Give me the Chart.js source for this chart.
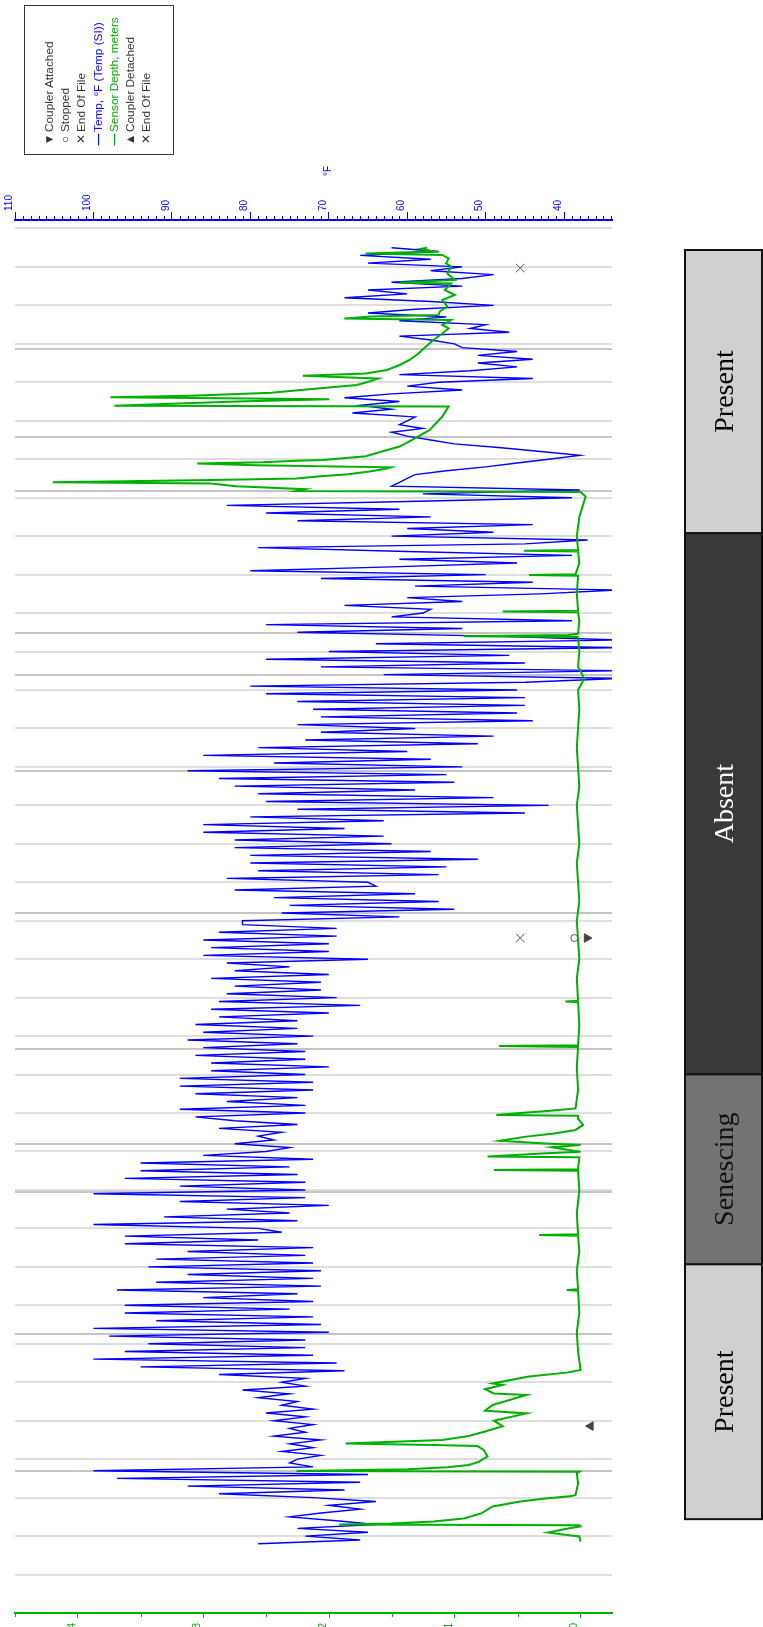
<!DOCTYPE html>
<html>
<head>
<meta charset="utf-8">
<script src="https://cdn.jsdelivr.net/npm/chart.js@4.4.1/dist/chart.umd.min.js"></script>
<style>
  html, body { margin: 0; padding: 0; background: #fff; overflow: hidden; }
  #wrap { position: relative; width: 763px; height: 1627px; overflow: hidden; }
  #chartBox { position: absolute; left: 0; top: 0; width: 763px; height: 1633px; }
  #legend {
    position: absolute; left: 24px; top: 5px; width: 150px; height: 150px;
    box-sizing: border-box; border: 1.5px solid #333; background: #fff;
    transform: rotate(-90deg);
    font: 11.8px "Liberation Sans", Arial, sans-serif; color: #333;
    padding: 16px 0 0 7px; line-height: 16.2px; white-space: nowrap;
  }
  #legend .sym { display: inline-block; width: 15px; text-align: center; }
  #legend .blue { color: #0000ff; }
  #legend .green { color: #00a800; }
  #degF {
    position: absolute; left: 318px; top: 165px; width: 20px; height: 12px;
    transform: rotate(-90deg); text-align: center;
    font: 10px "Liberation Sans", Arial, sans-serif; color: #0000ff; line-height: 12px;
  }
</style>
</head>
<body>
<div id="wrap">
  <div id="chartBox"><canvas id="chart_depthTemp"></canvas></div>
  <div id="legend">
    <div><span class="sym">&#9660;</span>Coupler Attached</div>
    <div><span class="sym">&#9675;</span>Stopped</div>
    <div><span class="sym">&#10005;</span>End Of File</div>
    <div class="blue"><span class="sym"><b>&mdash;</b></span>Temp, °F (Temp (SI))</div>
    <div class="green"><span class="sym"><b>&mdash;</b></span>Sensor Depth, meters</div>
    <div><span class="sym">&#9650;</span>Coupler Detached</div>
    <div><span class="sym">&#10005;</span>End Of File</div>
  </div>
  <div id="degF">°F</div>
</div>
<script>
// temperature, one reading every 0.1 day from day 1.8 (rows = one day)
var tempStartDay = 1.8;
var tempStepDays = 0.1;
var tempF = [
  79, 66,
  73, 65, 74, 64, 69, 75, 71, 66, 70, 64,
  72, 84, 68, 88, 66, 97, 65, 100, 72, 75,
  74, 71, 76, 72, 75, 71, 77, 73, 75, 72,
  77, 73, 78, 72, 76, 74, 79, 75, 81, 73,
  76, 73, 84, 68, 94, 69, 100, 72, 96, 73,
  93, 73, 98, 70, 100, 71, 92, 72, 96, 75,
  96, 72, 86, 74, 97, 71, 92, 72, 88, 71,
  93, 72, 92, 73, 88, 72, 96, 79, 96, 76,
  79, 100, 74, 91, 75, 83, 70, 89, 73, 100,
  73, 89, 73, 96, 74, 94, 75, 94, 72, 86,
  78, 75, 82, 77, 79, 76, 84, 74, 82, 87,
  73, 89, 73, 83, 74, 87, 72, 89, 72, 89,
  73, 85, 70, 85, 73, 87, 73, 86, 74, 88,
  72, 86, 74, 87, 74, 84, 70, 85, 66, 84,
  69, 83, 71, 82, 71, 85, 70, 82, 75, 83,
  65, 86, 70, 85, 70, 86, 69, 84, 69, 81,
  81, 61, 76, 54, 75, 56, 77, 59, 82, 64,
  65, 83, 56, 79, 55, 80, 51, 80, 57, 82,
  62, 82, 63, 86, 68, 86, 63, 80, 45, 74,
  42, 78, 49, 79, 59, 82, 54, 84, 55, 88,
  53, 77, 57, 86, 60, 79, 51, 73, 49, 71,
  59, 74, 44, 71, 46, 72, 45, 74, 45, 78,
  46, 80, 45, 33, 63, 33, 71, 45, 78, 47,
  70, 33, 64, 33, 49, 74, 53, 78, 39, 62,
  58, 57, 68, 53, 60, 43, 33, 59, 44, 71,
  50, 80, 62, 46, 61, 39, 60, 79, 45, 37,
  62, 49, 60, 44, 74, 57, 78, 61, 83, 60,
  39, 58, 38, 62, 61, 60, 59, 55, 50, 46,
  42, 38, 43, 48, 54, 57, 60, 62, 58, 61,
  60, 59, 67, 62, 66, 61, 68, 62, 53, 60,
  56, 44, 61, 52, 46, 51, 44, 51, 46, 53,
  54, 57, 61, 47, 52, 50, 61, 55, 65, 59,
  49, 57, 68, 60, 65, 53, 62, 53, 49, 57,
  53, 65, 57, 66, 56, 62
];

// sensor depth
var depthDays = [
  1.86, 1.99, 2.09, 2.19, 2.25, 2.28, 2.30, 2.33, 2.38, 2.46, 2.59, 2.77, 2.90, 2.98, 3.04,
  3.07, 3.37, 3.63, 3.67, 3.69, 3.74, 3.79, 3.85, 3.93, 4.07, 4.24, 4.34, 4.37, 4.41, 4.50,
  4.60, 4.72, 4.86, 5.00, 5.19, 5.26, 5.41, 5.67, 5.71, 5.82, 5.93, 5.97, 6.15, 6.25, 6.32,
  6.8, 7.3, 7.8, 8.38, 8.40, 8.42, 8.9, 9.4, 9.81, 9.83, 9.85, 10.4, 11.0, 11.50, 11.52,
  11.54, 11.85, 11.87, 11.91, 11.95, 11.99, 12.11, 12.17, 12.21, 12.28, 12.38, 12.47, 12.56, 12.69, 12.85,
  12.93, 12.95, 13.00, 13.06, 13.12, 13.6, 14.2, 14.72, 14.74, 14.76, 15.3, 15.88, 15.90, 15.92, 16.5,
  17.0, 17.5, 18.0, 18.5, 19.0, 19.5, 20.0, 20.5, 21.0, 21.5, 22.0, 22.5, 23.0, 23.5, 24.0,
  24.3, 24.6, 25.0, 25.38, 25.40, 25.43, 25.46, 25.8, 26.02, 26.04, 26.06, 26.5, 26.97, 26.99, 27.01,
  27.3, 27.60, 27.62, 27.64, 28.0, 28.5, 29.03, 29.15,
  29.17, 29.22, 29.30, 29.37, 29.40, 29.46, 29.50, 29.55, 29.61, 29.68, 29.76, 29.79, 29.84, 29.89, 29.92,
  29.96, 29.98, 30.08, 30.20, 30.33, 30.50, 30.76, 31.11, 31.37, 31.39, 31.50, 31.56, 31.61, 31.65, 31.73,
  31.82, 31.93, 32.02, 32.10, 32.17, 32.23, 32.32, 32.45, 32.58, 32.75, 32.93, 33.10, 33.27, 33.40, 33.49,
  33.62, 33.66, 33.71, 33.75, 33.84, 33.97, 34.14, 34.27, 34.40, 34.57, 34.59, 34.66, 34.83, 35.01, 35.09,
  35.22, 35.31, 35.35, 35.40, 35.47, 35.50
];
var depthM = [
  0.00, 0.01, 0.26, 0.11, 0.00, 0.01, 1.92, 1.51, 1.17, 0.93, 0.79, 0.70, 0.48, 0.28, 0.07,
  0.04, 0.02, 0.03, 0.01, 2.26, 1.37, 1.06, 0.89, 0.81, 0.74, 0.77, 0.82, 1.17, 1.87, 1.10,
  0.89, 0.76, 0.62, 0.69, 0.43, 0.76, 0.70, 0.43, 0.69, 0.76, 0.62, 0.70, 0.41, 0.11, 0.00,
  0.02, 0.03, 0.01, 0.02, 0.11, 0.02, 0.03, 0.01, 0.02, 0.33, 0.02, 0.03, 0.01, 0.02, 0.69,
  0.02, 0.01, 0.74, 0.52, 0.31, 0.00, 0.23, 0.00, 0.28, 0.64, 0.45, 0.21, 0.04, -0.02, 0.02,
  0.02, 0.67, 0.48, 0.24, 0.04, 0.02, 0.03, 0.02, 0.65, 0.02, 0.01, 0.02, 0.12, 0.02, 0.03,
  0.01, 0.02, 0.03, 0.01, 0.02, 0.03, 0.01, 0.02, 0.03, 0.01, 0.02, 0.03, 0.02, 0.01, 0.02,
  -0.03, 0.02, 0.01, 0.02, 0.93, 0.10, 0.02, 0.01, 0.02, 0.62, 0.02, 0.03, 0.02, 0.41, 0.04,
  0.01, 0.02, 0.45, 0.02, 0.03, 0.01, -0.04, 0.00,
  2.26, 2.19, 2.74, 2.94, 4.20, 2.93, 2.26, 2.09, 1.85, 1.68, 1.54, 1.51, 2.58, 3.05, 2.53,
  2.26, 2.05, 1.71, 1.58, 1.44, 1.34, 1.20, 1.10, 1.05, 3.71, 2.74, 2.00, 3.74, 3.10, 2.46,
  2.16, 1.78, 1.68, 1.61, 2.21, 1.71, 1.54, 1.44, 1.36, 1.29, 1.23, 1.17, 1.10, 1.05, 1.10,
  1.03, 1.88, 1.66, 1.13, 1.12, 1.06, 1.10, 1.00, 1.08, 1.03, 1.44, 1.00, 1.06, 1.03, 1.07,
  1.05, 1.10, 1.71, 1.17, 1.27, 1.22
];

// logger events (day, depth position)
var endOfFileDays = [34.97, 17.55];
var endOfFileDepth = [0.48, 0.48];
var stoppedDays = [17.55];
var stoppedDepth = [0.05];
var attachedDays = [17.55];
var attachedDepth = [-0.05];
var detachedDays = [4.86];
var detachedDepth = [-0.08];

// darker grid lines where a file starts
var fileLines = [3.69, 7.25, 10.95, 12.19, 14.66, 18.20, 21.89, 24.39, 25.48, 29.17, 30.58, 32.86];

// habitat status bars
var statusNames = ['Present', 'Senescing', 'Absent', 'Present'];
var statusFrom = [2.44, 9.07, 14.01, 28.08];
var statusTo = [9.07, 14.01, 28.08, 35.44];
var statusFill = ['#d0d0d0', '#737373', '#393939', '#d0d0d0'];
var statusInk = ['#000', '#111', '#fff', '#000'];

var tempTicks = [40, 50, 60, 70, 80, 90, 100, 110];
var depthTicks = [0, 1, 2, 3, 4];
var dayLines = [];
for (var d = 1; d <= 36; d++) dayLines.push(d);

function pts(xs, ys) {
  return xs.map(function (x, i) { return { x: x, y: ys[i] }; });
}
var tempPoints = tempF.map(function (v, i) {
  return { x: v, y: tempStartDay + i * tempStepDays };
});

var statusBars = {
  id: 'statusBars',
  afterDraw: function (chart) {
    var ctx = chart.ctx, ys = chart.scales.time;
    var left = 685, width = 77;
    ctx.save();
    for (var i = 0; i < statusNames.length; i++) {
      var top = ys.getPixelForValue(statusTo[i]);
      var bottom = ys.getPixelForValue(statusFrom[i]);
      ctx.fillStyle = statusFill[i];
      ctx.fillRect(left, top, width, bottom - top);
      ctx.lineWidth = 2;
      ctx.strokeStyle = '#111';
      ctx.strokeRect(left, top, width, bottom - top);
      ctx.save();
      ctx.translate(left + width / 2 + 2, (top + bottom) / 2);
      ctx.rotate(-Math.PI / 2);
      ctx.fillStyle = statusInk[i];
      ctx.font = '28px "Liberation Serif", "Times New Roman", serif';
      ctx.textAlign = 'center';
      ctx.textBaseline = 'middle';
      ctx.fillText(statusNames[i], 0, 0);
      ctx.restore();
    }
    ctx.restore();
  }
};

var minorTicks = {
  id: 'minorTicks',
  afterDraw: function (chart) {
    var ctx = chart.ctx, t = chart.scales.temp, dp = chart.scales.depth;
    ctx.save();
    ctx.lineWidth = 1;
    ctx.strokeStyle = '#0000ff';
    for (var v = 34; v < 110; v++) {
      if (v % 10 === 0) continue;
      var x = Math.round(t.getPixelForValue(v)) + 0.5;
      ctx.beginPath(); ctx.moveTo(x, t.bottom); ctx.lineTo(x, t.bottom - 4); ctx.stroke();
    }
    ctx.strokeStyle = '#00b000';
    for (var h = 0.5; h < 4.6; h += 1) {
      var x2 = Math.round(dp.getPixelForValue(h)) + 0.5;
      ctx.beginPath(); ctx.moveTo(x2, dp.top); ctx.lineTo(x2, dp.top + 4); ctx.stroke();
    }
    ctx.restore();
  }
};

var tickFont = { family: 'Liberation Sans', size: 10 };

var chart_depthTemp = new Chart(document.getElementById('chart_depthTemp'), {
  type: 'scatter',
  data: {
    datasets: [
      {
        label: 'Sensor Depth, meters',
        data: pts(depthM, depthDays),
        xAxisID: 'depth', yAxisID: 'time',
        showLine: true, borderColor: '#00b000', borderWidth: 2,
        pointRadius: 0
      },
      {
        label: 'Temp, °F (Temp (SI))',
        data: tempPoints,
        xAxisID: 'temp', yAxisID: 'time',
        showLine: true, borderColor: '#0000ff', borderWidth: 1.4,
        pointRadius: 0
      },
      {
        label: 'End Of File',
        data: pts(endOfFileDepth, endOfFileDays),
        xAxisID: 'depth', yAxisID: 'time',
        pointStyle: 'crossRot', pointRadius: 6, borderColor: '#555', borderWidth: 1
      },
      {
        label: 'Stopped',
        data: pts(stoppedDepth, stoppedDays),
        xAxisID: 'depth', yAxisID: 'time',
        pointStyle: 'circle', pointRadius: 3.5, borderColor: '#555', borderWidth: 1,
        backgroundColor: 'rgba(0,0,0,0)'
      },
      {
        label: 'Coupler Attached',
        data: pts(attachedDepth, attachedDays),
        xAxisID: 'depth', yAxisID: 'time',
        pointStyle: 'triangle', pointRotation: 90, pointRadius: 5,
        backgroundColor: '#444', borderColor: '#444', borderWidth: 1
      },
      {
        label: 'Coupler Detached',
        data: pts(detachedDepth, detachedDays),
        xAxisID: 'depth', yAxisID: 'time',
        pointStyle: 'triangle', pointRotation: 270, pointRadius: 5,
        backgroundColor: '#444', borderColor: '#444', borderWidth: 1
      }
    ]
  },
  options: {
    animation: false,
    responsive: true,
    maintainAspectRatio: false,
    layout: { padding: { left: 15, right: 151, top: 192, bottom: 0 } },
    plugins: {
      legend: { display: false },
      tooltip: { enabled: false }
    },
    scales: {
      temp: {
        type: 'linear', axis: 'x', position: 'top', reverse: true,
        min: 33.9, max: 110,
        afterBuildTicks: function (s) { s.ticks = tempTicks.map(function (v) { return { value: v }; }); },
        afterFit: function (s) { s.height = 28; },
        grid: { drawOnChartArea: false, tickLength: 8, tickColor: '#0000ff', tickWidth: 1 },
        border: { color: '#0000ff', width: 2 },
        ticks: { color: '#0000ff', font: tickFont, minRotation: 90, maxRotation: 90, padding: 1, labelOffset: 6, autoSkip: false }
      },
      depth: {
        type: 'linear', axis: 'x', position: 'bottom', reverse: true,
        min: -0.25, max: 4.5,
        afterBuildTicks: function (s) { s.ticks = depthTicks.map(function (v) { return { value: v }; }); },
        afterFit: function (s) { s.height = 20; },
        grid: { drawOnChartArea: false, tickLength: 5, tickColor: '#00b000', tickWidth: 1 },
        border: { color: '#00b000', width: 2 },
        ticks: { color: '#00b000', font: tickFont, minRotation: 90, maxRotation: 90, padding: 5, labelOffset: -6, autoSkip: false }
      },
      time: {
        type: 'linear', axis: 'y', position: 'left',
        min: 0, max: 36.22,
        afterBuildTicks: function (s) {
          s.ticks = dayLines.map(function (v) { return { value: v }; })
            .concat(fileLines.map(function (v) { return { value: v, file: true }; }));
        },
        afterFit: function (s) { s.width = 0; },
        grid: {
          drawTicks: false,
          lineWidth: 2,
          color: function (c) { return c.tick && c.tick.file ? '#c4c4c4' : '#dedede'; }
        },
        border: { display: false },
        ticks: { display: false }
      }
    }
  },
  plugins: [statusBars, minorTicks]
});
</script>
</body>
</html>
